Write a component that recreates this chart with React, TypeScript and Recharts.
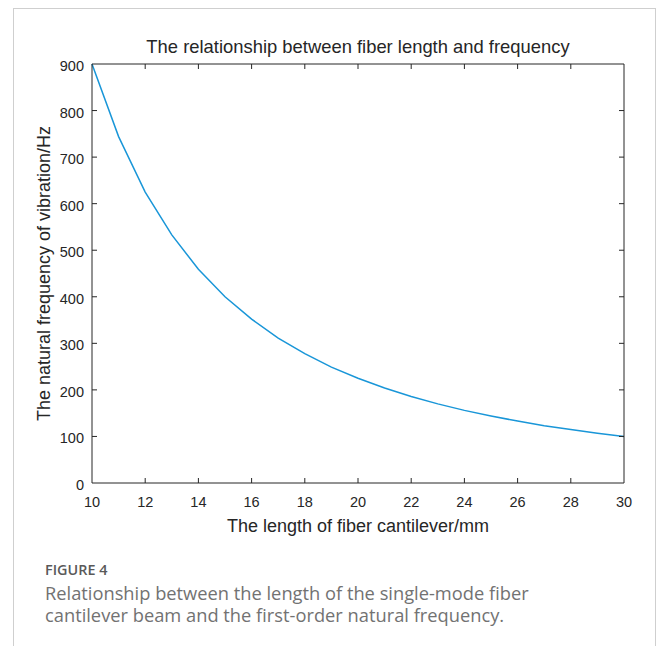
import React from 'react';
import { LineChart, Line, XAxis, YAxis } from 'recharts';

const lengthsMm = [10, 11, 12, 13, 14, 15, 16, 17, 18, 19, 20, 21, 22, 23, 24, 25, 26, 27, 28, 29, 30];
const frequencyHz = [900, 744, 625, 533, 459, 400, 352, 311, 278, 249, 225, 204, 186, 170, 156, 144, 133, 123, 115, 107, 100];
const xTicks = [10, 12, 14, 16, 18, 20, 22, 24, 26, 28, 30];
const yTicks = [0, 100, 200, 300, 400, 500, 600, 700, 800, 900];

const chartTitle = 'The relationship between fiber length and frequency';
const xLabel = 'The length of fiber cantilever/mm';
const yLabel = 'The natural frequency of vibration/Hz';
const figureLabel = 'FIGURE 4';
const captionText = 'Relationship between the length of the single-mode fiber cantilever beam and the first-order natural frequency.';

const data = lengthsMm.map((l, i) => ({ l, f: frequencyHz[i] }));

const AX = '#262626';
const FONT = '"Liberation Sans", Arial, sans-serif';
const TL = 5;
const TFS = 14.5;

const BottomTick = (p: any) => (
  <g>
    {p.payload.value !== 10 && p.payload.value !== 30 && (
      <line x1={p.x} y1={p.y} x2={p.x} y2={p.y - TL} stroke={AX} strokeWidth={1} />
    )}
    <text x={p.x} y={p.y + 24} textAnchor="middle" fill={AX} fontSize={TFS} fontFamily={FONT}>
      {p.payload.value}
    </text>
  </g>
);
const TopTick = (p: any) =>
  p.payload.value !== 10 && p.payload.value !== 30 ? (
    <line x1={p.x} y1={p.y} x2={p.x} y2={p.y + TL} stroke={AX} strokeWidth={1} />
  ) : (
    <g />
  );
const LeftTick = (p: any) => (
  <g>
    {p.payload.value !== 0 && p.payload.value !== 900 && (
      <line x1={p.x} y1={p.y} x2={p.x + TL} y2={p.y} stroke={AX} strokeWidth={1} />
    )}
    <text x={p.x - 8} y={p.y + 7} textAnchor="end" fill={AX} fontSize={TFS} fontFamily={FONT}>
      {p.payload.value}
    </text>
  </g>
);
const RightTick = (p: any) =>
  p.payload.value !== 0 && p.payload.value !== 900 ? (
    <line x1={p.x} y1={p.y} x2={p.x - TL} y2={p.y} stroke={AX} strokeWidth={1} />
  ) : (
    <g />
  );

export default function App() {
  return (
    <div style={{ position: 'absolute', left: 0, top: 0, width: 656, height: 646, background: '#fff', overflow: 'hidden' }}>
      <div
        style={{
          position: 'absolute',
          left: 13,
          top: 8,
          width: 643,
          height: 700,
          borderLeft: '1px solid #cfcfcf',
          borderTop: '1px solid #cfcfcf',
          borderRight: '1px solid #cfcfcf',
          boxSizing: 'border-box',
        }}
      />
      <div style={{ position: 'absolute', left: 0, top: 0 }}>
        <LineChart width={656} height={540} data={data} margin={{ top: 63, right: 31, left: 32, bottom: 10 }}>
          <XAxis
            dataKey="l"
            type="number"
            domain={[10, 30]}
            ticks={xTicks}
            interval={0}
            height={47}
            tickSize={0}
            tickMargin={0}
            tick={<BottomTick />}
            axisLine={{ stroke: AX, strokeWidth: 1 }}
            tickLine={false}
            label={{ value: xLabel, position: 'insideBottom', offset: -2, fill: AX, fontSize: 18, fontFamily: FONT }}
          />
          <XAxis
            xAxisId="top"
            orientation="top"
            dataKey="l"
            type="number"
            domain={[10, 30]}
            ticks={xTicks}
            interval={0}
            height={1}
            tickSize={0}
            tickMargin={0}
            tick={<TopTick />}
            axisLine={{ stroke: AX, strokeWidth: 1 }}
            tickLine={false}
          />
          <YAxis
            type="number"
            domain={[0, 900]}
            ticks={yTicks}
            interval={0}
            width={60}
            tickSize={0}
            tickMargin={0}
            tick={<LeftTick />}
            axisLine={{ stroke: AX, strokeWidth: 1 }}
            tickLine={false}
            label={{
              value: yLabel,
              angle: -90,
              position: 'insideLeft',
              offset: 12,
              style: { textAnchor: 'middle' },
              fill: AX,
              fontSize: 18,
              fontFamily: FONT,
            }}
          />
          <YAxis
            yAxisId="right"
            orientation="right"
            type="number"
            domain={[0, 900]}
            ticks={yTicks}
            interval={0}
            width={1}
            tickSize={0}
            tickMargin={0}
            tick={<RightTick />}
            axisLine={{ stroke: AX, strokeWidth: 1 }}
            tickLine={false}
          />
          <Line
            xAxisId="top"
            yAxisId="right"
            dataKey="f"
            type="linear"
            stroke="none"
            strokeWidth={0}
            dot={false}
            legendType="none"
            isAnimationActive={false}
          />
          <Line
            dataKey="f"
            type="linear"
            stroke="#1996d8"
            strokeWidth={1.5}
            dot={false}
            isAnimationActive={false}
          />
        </LineChart>
      </div>
      <div
        style={{
          position: 'absolute',
          left: 0,
          width: 716,
          top: 36,
          textAlign: 'center',
          fontFamily: FONT,
          fontSize: 18.4,
          color: AX,
          whiteSpace: 'nowrap',
        }}
      >
        {chartTitle}
      </div>
      <div
        style={{
          position: 'absolute',
          left: 45,
          top: 562,
          lineHeight: '15px',
          fontFamily: '"Open Sans", sans-serif',
          fontSize: 14.4,
          fontWeight: 600,
          color: '#595959',
        }}
      >
        {figureLabel}
      </div>
      <div
        style={{
          position: 'absolute',
          left: 45,
          top: 582,
          width: 560,
          fontFamily: '"Open Sans", sans-serif',
          fontSize: 18.3,
          lineHeight: '21.5px',
          color: '#727272',
        }}
      >
        {captionText}
      </div>
    </div>
  );
}
